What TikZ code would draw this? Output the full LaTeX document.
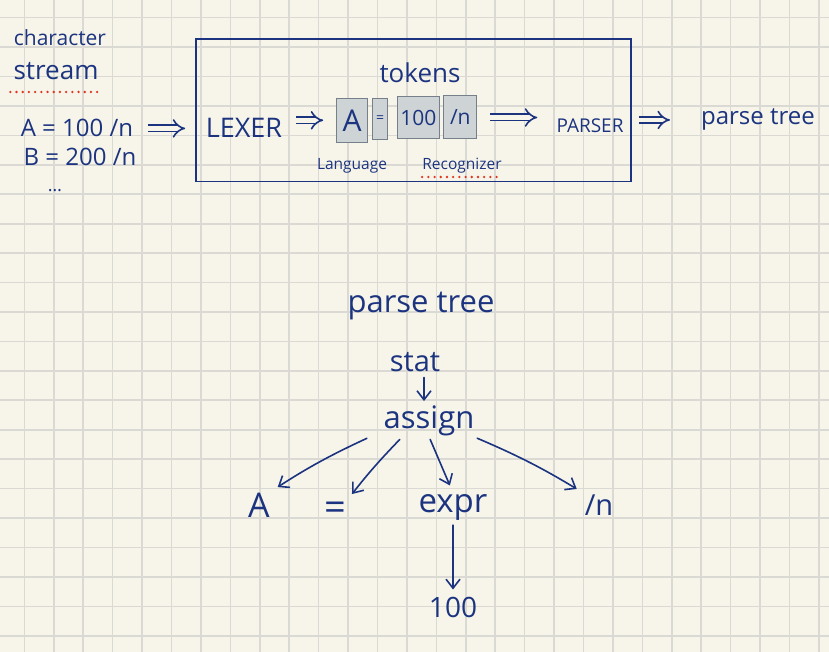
\documentclass[tikz,border=0pt]{standalone}
\usepackage{fontspec}
\setmainfont{Open Sans}
\usepackage{tikz}
\usetikzlibrary{arrows.meta}

\definecolor{paper}{RGB}{247,245,233}
\definecolor{gridgray}{RGB}{218,217,212}
\definecolor{ink}{RGB}{28,52,128}
\definecolor{reddot}{RGB}{226,52,30}
\definecolor{tokfill}{RGB}{206,212,214}
\definecolor{tokline}{RGB}{118,128,138}

\tikzset{
  hand/.style={text=ink, inner sep=1pt, anchor=base},
  tokbox/.style={draw=tokline, fill=tokfill, line width=1pt, inner sep=0pt, text=ink},
  dblarrow/.style={draw=ink, double=paper, double distance=4.8pt, line width=1.6pt, -{Implies[scale=1.4]}},
  treearrow/.style={draw=ink, line width=1.6pt, line cap=round, -{Straight Barb[length=9pt,width=14pt]}},
  reddots/.style={draw=reddot, line width=2.6pt, line cap=round, dash pattern=on 0pt off 6.2pt},
  gridline/.style={draw=gridgray, line width=1.6pt}
}
\newcommand{\Hand}[1]{\fontsize{#1}{#1}\selectfont}

\begin{document}
\begin{tikzpicture}[x=1pt,y=-1pt]
            \useasboundingbox (0,0) rectangle (829,652);
            \fill[paper] (0,0) rectangle (829,652);
            % squared paper
            \foreach \gx in {0,...,27}
              \draw[gridline] ({24.3+29.43*\gx},0) -- ++(0,652);
            \foreach \gy in {0,...,21}
              \draw[gridline] (0,{17.7+29.43*\gy}) -- ++(829,0);

            % input side
            \node[hand, font=\Hand{21}] (chars) at (60,46) {character};
            \node[hand, font=\Hand{26}] (stream) at (56,80) {stream};
            \draw[reddots] ([xshift=-2pt,yshift=-12pt]stream.base west) -- ([xshift=2pt,yshift=-12pt]stream.base east);
            \node[hand, font=\Hand{24}] (line1) at (77,137) {A = 100 /n};
            \node[hand, font=\Hand{24}] (line2) at (80,166) {B = 200 /n};
            \node[hand, font=\Hand{18}] (dots) at (55,192) {\ldots};

            % lexer box
            \node[draw=ink, line width=1.6pt, minimum width=435pt, minimum height=142.5pt] (lexbox) at (413.5,110.25) {};
            \draw[dblarrow, shorten <=14pt, shorten >=10pt] (line1.east) -- (line1.east -| lexbox.west);
            \node[hand, font=\Hand{26}] (tokens) at (420,83) {tokens};
            \node[hand, font=\Hand{27}] (lexer) at (244,138) {LEXER};
            \node[tokbox, minimum width=30.6pt, minimum height=44pt, font=\Hand{30}] (tokA) at (352,120.3) {A};
            \node[tokbox, minimum width=15.4pt, minimum height=41pt, font=\Hand{14}] (tokEq) at (380,118.8) {=};
            \node[tokbox, minimum width=42pt, minimum height=42.3pt, font=\Hand{21}] (tokHundred) at (418.3,117.8) {100};
            \node[tokbox, minimum width=32.7pt, minimum height=43pt, font=\Hand{21}] (tokNl) at (460.3,117.5) {/n};
            \node[hand, font=\Hand{19}] (parser) at (590,133) {PARSER};
            \draw[dblarrow, shorten <=13pt, shorten >=13pt] (lexer.east |- tokA.west) -- (tokA.west);
            \draw[dblarrow, shorten <=13pt, shorten >=18pt] (tokNl.east) -- (tokNl.east -| parser.west);
            \node[hand, font=\Hand{15.5}] (language) at (352,170) {Language};
            \node[hand, font=\Hand{15.5}] (recognizer) at (462,170) {Recognizer};
            \draw[reddots] ([xshift=1pt,yshift=-7pt]recognizer.base west) -- ([xshift=-1pt,yshift=-7pt]recognizer.base east);

            % output
            \node[hand, font=\Hand{24}] (outtree) at (758,125) {parse tree};
            \draw[dblarrow, shorten <=7pt, shorten >=30pt] (lexbox.east |- outtree.west) -- (outtree.west);

            % parse tree
            \node[hand, font=\Hand{31}] (treetitle) at (421,312) {parse tree};
            \node[hand, font=\Hand{29}] (stat) at (415,371) {stat};
            \node[hand, font=\Hand{31}] (assign) at (429,428) {assign};
            \node[hand, font=\Hand{34}] (leafA) at (259,517) {A};
            \node[hand, font=\Hand{38}] (leafEq) at (335,520) {=};
            \node[hand, font=\Hand{33}] (expr) at (453,512) {expr};
            \node[hand, font=\Hand{29}] (leafNl) at (599,515) {/n};
            \node[hand, font=\Hand{28}] (num) at (453,617) {100};

            \draw[treearrow, shorten <=5pt, shorten >=3pt] ([xshift=9pt]stat.south) -- ([xshift=-5pt]assign.north);
            \draw[treearrow, shorten <=4pt, shorten >=8pt] ([xshift=-12pt]assign.south west) to[bend right=4] (leafA.north east);
            \draw[treearrow, shorten <=4pt, shorten >=8pt] ([xshift=20pt]assign.south west) to[bend right=3] (leafEq.north east);
            \draw[treearrow, shorten <=3pt, shorten >=8pt] (assign.south) -- (expr.north);
            \draw[treearrow, shorten <=4pt, shorten >=8pt] ([xshift=-2pt]assign.south east) to[bend left=4] (leafNl.north west);
            \draw[treearrow, shorten <=4pt, shorten >=6pt] (expr.south) -- (num.north);
          \end{tikzpicture}
\end{document}
